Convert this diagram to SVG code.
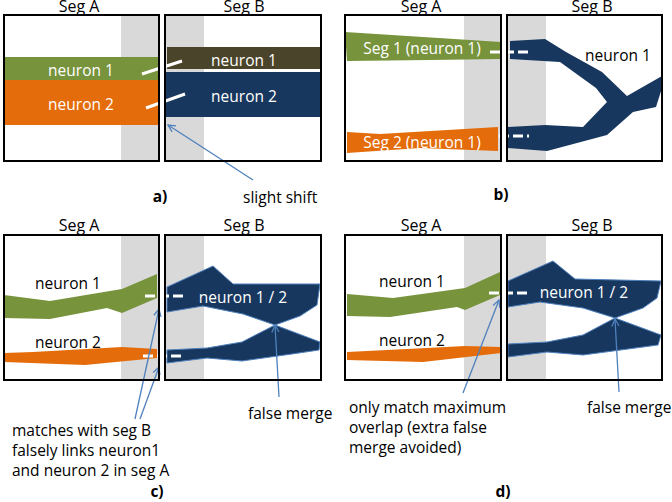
<svg xmlns="http://www.w3.org/2000/svg" width="672" height="502" viewBox="0 0 672 502">
<defs>
<style>
text{font-family:"Open Sans","Liberation Sans",sans-serif;font-size:15.5px;fill:#000}
.t{font-size:16px;text-anchor:middle}
.w{fill:#fff}
.c{text-anchor:middle}
.b{font-weight:bold;text-anchor:middle}
.box{fill:none;stroke:#000;stroke-width:2}
.g{fill:#D9D9D9}
.grn{fill:#77933C}
.org{fill:#E46C0A}
.nav{fill:#17375E}
.navo{fill:#17375E;stroke:#4F81BD;stroke-width:1}
.olv{fill:#4A452A}
.dash{stroke:#fff;stroke-width:3;stroke-dasharray:10 4;fill:none}
.solid{stroke:#fff;stroke-width:3;fill:none}
.arr{stroke:#4F81BD;stroke-width:1.3;fill:none;marker-end:url(#ah)}
</style>
<marker id="ah" viewBox="0 0 10 10" refX="9" refY="5" markerWidth="9" markerHeight="9" orient="auto" markerUnits="userSpaceOnUse">
<path d="M1,1 L9,5 L1,9" fill="none" stroke="#4F81BD" stroke-width="1.4"/>
</marker>
</defs>
<rect width="672" height="502" fill="#fff"/>

<!-- Panel a -->
<g id="a-segA">
<rect class="g" x="121" y="15" width="37" height="146"/>
<rect class="grn" x="4" y="57" width="154" height="23"/>
<rect class="org" x="4" y="80" width="154" height="45"/>
<text class="w c" x="81" y="76">neuron 1</text>
<text class="w c" x="81" y="110">neuron 2</text>
<rect class="box" x="4" y="15" width="155" height="146"/>
<text class="t" x="79" y="12">Seg A</text>
</g>
<g id="a-segB">
<rect class="g" x="166" y="15" width="38" height="146"/>
<rect class="olv" x="167" y="47" width="154" height="22"/>
<rect class="nav" x="166" y="72" width="155" height="45"/>
<text class="w c" x="244" y="66">neuron 1</text>
<text class="w c" x="244" y="102">neuron 2</text>
<rect class="box" x="165" y="15" width="156" height="146"/>
<text class="t" x="244" y="12">Seg B</text>
</g>
<text class="b" x="160" y="202">a)</text>
<text x="243" y="203">slight shift</text>

<!-- Panel b -->
<g id="b-segA">
<rect class="g" x="464" y="15" width="37" height="146"/>
<polygon class="grn" points="345,32 501,42 501,59 430,60 347,61"/>
<polygon class="org" points="347,132 380,134 498,127 498,151 420,148 347,153"/>
<text class="w c" x="422" y="54">Seg 1 (neuron 1)</text>
<text class="w c" x="422" y="148">Seg 2 (neuron 1)</text>
<rect class="box" x="345" y="15" width="156" height="146"/>
<text class="t" x="421" y="12">Seg A</text>
</g>
<g id="b-segB">
<rect class="g" x="508" y="15" width="38" height="146"/>
<polygon class="nav" points="510,41 545,39 566,52 602,72 627,96 662,76 662,88 656,107 633,112 607,135 547,151 508,148 508,127 545,125 583,127 607,102 596,88 560,62 510,59"/>
<text class="c" x="618" y="61">neuron 1</text>
<rect class="box" x="507" y="15" width="155" height="146"/>
<text class="t" x="592" y="12">Seg B</text>
</g>
<text class="b" x="501" y="200">b)</text>

<!-- Panel c -->
<g id="c-segA">
<rect class="g" x="121" y="235" width="37" height="145"/>
<polygon class="grn" points="4,295 50,301 122,289 157,274 157,298 122,313 107,308 50,319 4,318"/>
<polygon class="org" points="4,353 33,352 122,347 157,349 157,358 85,365 4,362"/>
<text class="c" x="68" y="289">neuron 1</text>
<text class="c" x="68" y="348">neuron 2</text>
<rect class="box" x="4" y="235" width="155" height="145"/>
<text class="t" x="79" y="231">Seg A</text>
</g>
<g id="c-segB">
<rect class="g" x="166" y="235" width="38" height="145"/>
<polygon class="navo" points="167,287 213,266 233,284 320,284 317,305 300,316 275,325 243,314 203,306 167,312"/>
<polygon class="navo" points="275,325 242,342 207,348 167,350 167,363 207,358 242,361 292,354 319,350 320,342"/>
<text class="w c" x="243" y="303">neuron 1 / 2</text>
<rect class="box" x="165" y="235" width="156" height="145"/>
<text class="t" x="244" y="231">Seg B</text>
</g>
<text class="b" x="157" y="497">c)</text>
<text x="12" y="436">matches with seg B</text>
<text x="12" y="456">falsely links neuron1</text>
<text x="12" y="476">and neuron 2 in seg A</text>
<text x="248" y="419">false merge</text>

<!-- Panel d -->
<g id="d-segA">
<rect class="g" x="464" y="235" width="37" height="145"/>
<polygon class="grn" points="347,294 393,298 465,288 500,272 500,295 465,310 457,307 390,317 347,316"/>
<polygon class="org" points="347,352 407,349 465,346 501,347 501,353 423,362 347,360"/>
<text class="c" x="412" y="287">neuron 1</text>
<text class="c" x="412" y="346">neuron 2</text>
<rect class="box" x="345" y="235" width="156" height="145"/>
<text class="t" x="421" y="231">Seg A</text>
</g>
<g id="d-segB">
<rect class="g" x="508" y="235" width="38" height="145"/>
<polygon class="navo" points="508,281 553,261 575,279 661,281 657,298 643,308 615,318 583,308 540,302 508,307"/>
<polygon class="navo" points="615,318 583,335 547,342 508,344 508,357 547,352 583,355 658,345 661,335"/>
<text class="w c" x="584" y="298">neuron 1 / 2</text>
<rect class="box" x="507" y="235" width="155" height="145"/>
<text class="t" x="592" y="231">Seg B</text>
</g>
<text class="b" x="503" y="497">d)</text>
<text x="349" y="413">only match maximum</text>
<text x="349" y="433">overlap (extra false</text>
<text x="349" y="453">merge avoided)</text>
<text x="587" y="413">false merge</text>

<!-- connectors -->
<g id="connectors">
<line class="solid" x1="142" y1="74" x2="182" y2="61"/>
<line class="solid" x1="146" y1="108" x2="185" y2="94"/>
<line class="dash" x1="490" y1="52" x2="529" y2="52"/>
<line class="dash" x1="499" y1="136" x2="529" y2="136"/>
<line class="dash" x1="145" y1="296" x2="184" y2="296"/>
<line class="dash" x1="143" y1="356" x2="183" y2="356"/>
<line class="dash" x1="489" y1="293" x2="529" y2="293"/>
<line class="arr" x1="253" y1="180" x2="168" y2="125"/>
<line class="arr" x1="135" y1="419" x2="159" y2="309"/>
<line class="arr" x1="140" y1="419" x2="159" y2="367"/>
<line class="arr" x1="279" y1="397" x2="275" y2="325"/>
<line class="arr" x1="463" y1="393" x2="499" y2="300"/>
<line class="arr" x1="619" y1="392" x2="615" y2="319"/>
</g>
<!-- box edges over connectors -->
<g id="edges" class="box">
<rect x="4" y="15" width="155" height="146"/>
<rect x="165" y="15" width="156" height="146"/>
<rect x="345" y="15" width="156" height="146"/>
<rect x="507" y="15" width="155" height="146"/>
<rect x="4" y="235" width="155" height="145"/>
<rect x="165" y="235" width="156" height="145"/>
<rect x="345" y="235" width="156" height="145"/>
<rect x="507" y="235" width="155" height="145"/>
</g>
</svg>
